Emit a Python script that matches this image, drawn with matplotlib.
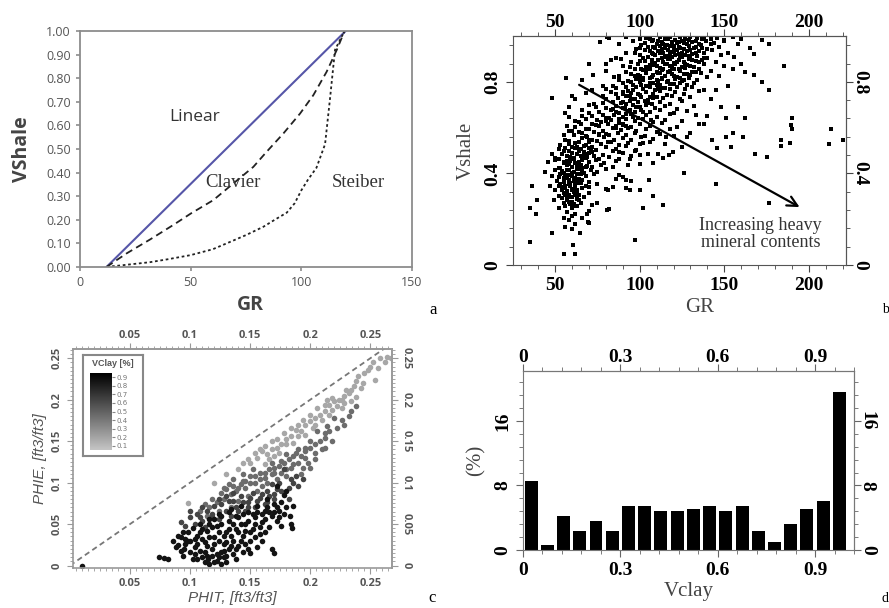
import numpy as np
import matplotlib
matplotlib.use("Agg")
import matplotlib.pyplot as plt
from matplotlib.colors import LinearSegmentedColormap
from matplotlib.ticker import MultipleLocator

SERIF = "Liberation Serif"
SANS = "Open Sans"

# ---- panel a : Vshale models
gr_lin = [12, 120]
vsh_lin = [0.0, 1.0]
gr_clav = [12, 21, 31.6, 42, 50, 60.2, 69.3, 78.3, 84.3, 91.9, 99.4, 105.4, 111.4, 116, 119.5]
vsh_clav = [0.0, 0.057, 0.116, 0.177, 0.226, 0.283, 0.354, 0.424, 0.488, 0.566, 0.65, 0.728, 0.827, 0.92, 1.0]
gr_stei = [12, 20, 31.6, 40, 50, 60, 67.8, 75, 82.8, 88, 93.4, 97, 100, 103, 106.8, 110.7, 112.9, 115.2, 119.5]
vsh_stei = [0.0, 0.008, 0.02, 0.033, 0.05, 0.075, 0.106, 0.135, 0.17, 0.2, 0.23, 0.27, 0.325, 0.37, 0.42, 0.52, 0.71, 0.92, 1.0]

# ---- panel b : GR vs Vshale crossplot, read row by row (Vshale level, GR readings)
rows_v = [0.99, 0.98, 0.97, 0.96, 0.95, 0.94, 0.93, 0.92, 0.91, 0.90, 0.89, 0.88, 0.87, 0.86,
          0.85, 0.84, 0.83, 0.82, 0.81, 0.80, 0.79, 0.78, 0.77, 0.76, 0.75, 0.74, 0.73, 0.72,
          0.71, 0.70, 0.69, 0.68, 0.67, 0.66, 0.65, 0.64, 0.63, 0.62, 0.61, 0.60, 0.59, 0.58,
          0.57, 0.56, 0.55, 0.54, 0.53, 0.52, 0.51, 0.50, 0.49, 0.48, 0.47, 0.46, 0.45, 0.44,
          0.43, 0.42, 0.41, 0.40, 0.39, 0.38, 0.37, 0.36, 0.35, 0.34, 0.33, 0.32, 0.31, 0.30,
          0.29, 0.28, 0.27, 0.26, 0.25, 0.23, 0.21, 0.19, 0.17, 0.15]
rows_gr = [
    [82, 92, 100, 104, 108, 112, 115, 118, 121, 124, 127, 130, 134, 138, 142, 146, 150, 155, 160],
    [106, 111, 117, 123, 129, 133, 137],
    [88, 96, 103, 107, 110, 113, 116, 119, 122, 125, 128, 131, 135, 139, 144, 150, 158],
    [101, 108, 114, 120, 126, 133, 142],
    [98, 105, 109, 112, 115, 118, 120, 123, 126, 129, 132, 136, 140, 147, 165],
    [100, 106, 113, 118, 124, 130, 137],
    [92, 103, 107, 111, 114, 117, 120, 122, 125, 128, 131, 135, 138, 143, 152],
    [97, 108, 112, 118, 123, 129, 133],
    [86, 100, 105, 109, 113, 116, 119, 121, 124, 127, 130, 134, 140, 148, 156],
    [102, 107, 115, 118, 125, 131, 138],
    [95, 103, 107, 111, 114, 117, 120, 123, 126, 129, 133, 137, 145],
    [100, 106, 109, 116, 122, 127, 135],
    [90, 99, 104, 108, 112, 115, 118, 121, 125, 128, 132, 138, 150, 160],
    [94, 101, 110, 114, 119, 123, 130],
    [80, 97, 102, 106, 110, 113, 117, 120, 124, 127, 131, 135, 142, 155],
    [92, 99, 104, 112, 118, 128, 133],
    [88, 95, 100, 104, 108, 111, 115, 119, 122, 126, 130, 136, 147],
    [97, 102, 107, 113, 120, 124],
    [66, 85, 93, 98, 102, 106, 110, 113, 117, 121, 125, 129, 134, 140],
    [88, 95, 100, 106, 111, 118, 126],
    [78, 90, 96, 100, 104, 108, 112, 116, 120, 124, 128, 132, 152],
    [84, 92, 101, 106, 110, 115],
    [72, 86, 93, 98, 102, 106, 109, 113, 118, 122, 127, 131, 138],
    [80, 90, 96, 104, 111],
    [68, 83, 90, 95, 100, 104, 108, 112, 116, 121, 126, 135],
    [86, 94, 99, 106, 116],
    [62, 78, 87, 92, 97, 101, 105, 110, 114, 119, 124, 130, 142],
    [80, 90, 95, 103, 108],
    [73, 84, 89, 94, 99, 103, 107, 112, 118, 125],
    [78, 86, 92, 98, 105],
    [58, 70, 80, 86, 91, 96, 100, 104, 109, 115, 122, 132, 148],
    [74, 84, 90, 94],
    [56, 66, 76, 83, 88, 93, 97, 101, 106, 112, 120, 128],
    [70, 78, 86, 92, 102],
    [58, 72, 80, 85, 90, 95, 99, 104, 110, 118, 140],
    [66, 75, 82, 88, 96],
    [62, 68, 77, 83, 88, 92, 97, 102, 108, 115, 125],
    [64, 72, 80, 90],
    [57, 65, 74, 81, 86, 90, 95, 100, 106, 113, 122, 135],
    [62, 68, 76, 86, 92],
    [60, 70, 78, 84, 89, 93, 98, 104, 110, 118],
    [58, 66, 73, 80],
    [55, 64, 68, 76, 82, 87, 92, 97, 103, 112, 120, 130],
    [61, 69, 76],
    [58, 66, 72, 79, 85, 90, 95, 101, 108],
    [56, 64, 70, 75],
    [53, 62, 67, 70, 77, 83, 88, 93, 100, 106, 115],
    [58, 63, 68, 72],
    [56, 60, 65, 70, 74, 80, 86, 92, 98, 125],
    [52, 58, 62, 67, 71],
    [48, 55, 60, 64, 68, 72, 78, 84, 90, 97, 105],
    [54, 59, 63, 67, 70],
    [52, 57, 61, 65, 69, 73, 76, 82, 88, 95, 114],
    [50, 57, 61, 64, 68],
    [46, 50, 55, 59, 62, 66, 70, 74, 79, 86, 100],
    [55, 58, 62, 65],
    [53, 57, 60, 63, 66, 69, 72, 77, 84, 93],
    [52, 57, 60, 63, 68],
    [44, 50, 55, 58, 61, 64, 67, 71, 75, 80],
    [54, 57, 60, 63, 66],
    [48, 53, 56, 59, 62, 65, 68, 73, 90],
    [52, 57, 60, 64],
    [51, 55, 58, 61, 63, 66, 70, 86, 95],
    [55, 58, 61, 64],
    [47, 53, 56, 59, 62, 65, 68, 75],
    [52, 56, 59, 62],
    [50, 54, 57, 60, 63, 66, 80, 92],
    [54, 57, 60, 63],
    [52, 55, 58, 61, 64, 70],
    [56, 59, 62],
    [49, 54, 57, 60, 63, 67],
    [57, 60, 64],
    [55, 58, 61, 65, 72],
    [59, 62],
    [52, 56, 60, 63, 82],
    [57, 62, 70],
    [55, 60, 66],
    [58, 70],
    [56, 62],
    [60],
]
# small vertical scatter of the readings around each row level
row_offs = [0.000, 0.007, -0.005, 0.003, -0.008, 0.006, -0.002, 0.009, -0.006, 0.004, -0.003, 0.008]
# scattered outliers
gr_out = [35.3, 35.3, 36.3, 39.2, 38.8, 48, 48, 56.5, 55, 60.4, 61.8, 59.8, 64.7, 69.6, 69.8, 72.5,
          76.5, 80.4, 79.8, 83, 89, 97.3, 102, 108, 114, 126, 117.6, 145, 145, 151, 151, 155, 158,
          154, 160.8, 162, 168, 162, 167.6, 167.6, 172.5, 176.5, 175.5, 176.5, 172.5, 176.5, 185.3,
          183.3, 183.7, 188.8, 189.8, 189.2, 190, 212, 213.3, 220, 146, 142.7, 138, 133, 128, 119.6,
          115.7, 110.8, 106.5, 105.5, 100, 94, 92, 88, 84.3, 81.4, 80.4, 74.5, 68.6, 70, 81.4, 88,
          94, 100, 102, 110.8, 108]
vsh_out = [0.10, 0.247, 0.346, 0.284, 0.225, 0.73, 0.138, 0.815, 0.05, 0.087, 0.05, 0.74, 0.138,
           0.19, 0.88, 0.83, 0.975, 0.996, 0.88, 0.895, 0.90, 0.11, 0.247, 0.30, 0.26, 0.40, 0.48,
           0.356, 0.764, 0.64, 0.56, 0.575, 0.69, 0.516, 0.56, 0.64, 0.487, 0.844, 0.923, 0.829,
           0.80, 0.764, 0.473, 0.273, 0.982, 0.967, 0.868, 0.545, 0.52, 0.531, 0.643, 0.611, 0.596,
           0.527, 0.592, 0.545, 0.509, 0.545, 0.618, 0.655, 0.56, 0.495, 0.56, 0.582, 0.633, 0.371,
           0.327, 0.327, 0.371, 0.393, 0.342, 0.327, 0.24, 0.269, 0.225, 0.342, 0.538, 0.495, 0.465,
           0.48, 0.531, 0.487, 0.444]

# ---- panel c : PHIT vs PHIE, in four Vclay classes
phit_light = [0.267, 0.262, 0.256, 0.250, 0.254, 0.245, 0.240, 0.242, 0.236, 0.238, 0.232, 0.228, 0.224,
              0.220, 0.216, 0.214, 0.222, 0.218, 0.226, 0.212, 0.208, 0.204, 0.210, 0.200, 0.196, 0.202,
              0.192, 0.188, 0.196, 0.184, 0.180, 0.186, 0.176, 0.172, 0.168, 0.174, 0.164, 0.160, 0.166,
              0.156, 0.150, 0.162, 0.140, 0.098, 0.120,
              0.264, 0.258, 0.252, 0.248, 0.244, 0.238, 0.234, 0.230, 0.226, 0.218, 0.212, 0.206, 0.200,
              0.194, 0.190, 0.184, 0.178, 0.172, 0.168, 0.162, 0.158, 0.154, 0.148, 0.144, 0.234, 0.228,
              0.216, 0.204, 0.190, 0.180, 0.170, 0.130]
phie_light = [0.250, 0.246, 0.238, 0.240, 0.224, 0.232, 0.228, 0.214, 0.216, 0.203, 0.208, 0.204, 0.200,
              0.198, 0.194, 0.200, 0.192, 0.188, 0.190, 0.186, 0.182, 0.178, 0.176, 0.174, 0.170, 0.166,
              0.162, 0.164, 0.158, 0.156, 0.152, 0.148, 0.146, 0.142, 0.140, 0.136, 0.134, 0.138, 0.128,
              0.130, 0.124, 0.122, 0.116, 0.075, 0.100,
              0.252, 0.250, 0.246, 0.236, 0.220, 0.222, 0.212, 0.212, 0.200, 0.202, 0.194, 0.190, 0.182,
              0.176, 0.170, 0.166, 0.160, 0.152, 0.150, 0.144, 0.140, 0.136, 0.128, 0.124, 0.198, 0.196,
              0.182, 0.170, 0.156, 0.146, 0.132, 0.110]
phit_mid = [0.232, 0.228, 0.220, 0.214, 0.206, 0.212, 0.200, 0.196, 0.190, 0.186, 0.180, 0.176, 0.170,
            0.168, 0.162, 0.158, 0.154, 0.150, 0.146, 0.142, 0.138, 0.134, 0.130, 0.128, 0.126, 0.122,
            0.118, 0.116, 0.112, 0.108, 0.176, 0.184, 0.190, 0.196, 0.204, 0.160, 0.164, 0.172, 0.180,
            0.148, 0.140, 0.134, 0.156, 0.124, 0.114, 0.192, 0.200, 0.210, 0.218, 0.152, 0.144, 0.136,
            0.146, 0.150, 0.154, 0.158, 0.162, 0.166, 0.170, 0.174, 0.178, 0.182, 0.186, 0.188, 0.192,
            0.196, 0.200, 0.204, 0.208, 0.212, 0.216, 0.222, 0.226, 0.234, 0.238, 0.140, 0.136, 0.132,
            0.128, 0.144, 0.168, 0.180, 0.198, 0.204, 0.212, 0.194]
phie_mid = [0.180, 0.170, 0.178, 0.168, 0.162, 0.154, 0.150, 0.142, 0.140, 0.132, 0.134, 0.126, 0.118,
            0.110, 0.112, 0.104, 0.108, 0.100, 0.094, 0.098, 0.090, 0.086, 0.092, 0.080, 0.088, 0.076,
            0.080, 0.070, 0.074, 0.066, 0.112, 0.118, 0.124, 0.130, 0.136, 0.096, 0.100, 0.104, 0.108,
            0.084, 0.078, 0.070, 0.090, 0.066, 0.060, 0.110, 0.118, 0.140, 0.150, 0.116, 0.110, 0.104,
            0.102, 0.108, 0.100, 0.112, 0.106, 0.116, 0.112, 0.120, 0.124, 0.128, 0.122, 0.136, 0.132,
            0.138, 0.142, 0.146, 0.150, 0.160, 0.162, 0.166, 0.176, 0.186, 0.192, 0.094, 0.096, 0.098,
            0.094, 0.102, 0.124, 0.116, 0.124, 0.128, 0.142, 0.118]
phit_dmid = [0.100, 0.106, 0.110, 0.118, 0.124, 0.130, 0.136, 0.142, 0.148, 0.152, 0.158, 0.164, 0.168,
             0.174, 0.178, 0.186, 0.190, 0.182, 0.162, 0.170, 0.154, 0.146, 0.112, 0.104, 0.096, 0.092,
             0.100, 0.108, 0.114, 0.120, 0.126, 0.132, 0.138, 0.144, 0.150, 0.156, 0.160, 0.166, 0.172,
             0.176, 0.182, 0.184, 0.188, 0.194, 0.170, 0.164, 0.134, 0.140, 0.148, 0.118, 0.110, 0.124,
             0.130, 0.136]
phie_dmid = [0.058, 0.062, 0.054, 0.062, 0.056, 0.066, 0.078, 0.084, 0.076, 0.088, 0.082, 0.090, 0.098,
             0.100, 0.116, 0.100, 0.096, 0.080, 0.074, 0.086, 0.070, 0.066, 0.046, 0.050, 0.048, 0.052,
             0.066, 0.058, 0.066, 0.072, 0.074, 0.078, 0.070, 0.076, 0.082, 0.078, 0.086, 0.084, 0.092,
             0.090, 0.094, 0.104, 0.108, 0.104, 0.080, 0.076, 0.060, 0.066, 0.070, 0.058, 0.070, 0.080,
             0.084, 0.088]
phit_dark = [0.074, 0.078, 0.082, 0.086, 0.090, 0.092, 0.095, 0.098, 0.100, 0.102, 0.104, 0.106, 0.108,
             0.110, 0.112, 0.114, 0.116, 0.112, 0.115, 0.118, 0.118, 0.120, 0.122, 0.124, 0.122, 0.126,
             0.128, 0.130, 0.132, 0.134, 0.128, 0.132, 0.136, 0.138, 0.140, 0.142, 0.136, 0.140, 0.144,
             0.146, 0.148, 0.144, 0.148, 0.150, 0.152, 0.154, 0.156, 0.150, 0.158, 0.160, 0.162, 0.164,
             0.166, 0.168, 0.170, 0.172, 0.174, 0.176, 0.168, 0.170, 0.184, 0.185, 0.183, 0.186, 0.178,
             0.094, 0.096, 0.104, 0.108, 0.126, 0.116, 0.130, 0.010, 0.138, 0.156, 0.160, 0.180, 0.172,
             0.088, 0.092, 0.096, 0.100, 0.102, 0.106, 0.108, 0.110, 0.112, 0.114, 0.116, 0.118, 0.120,
             0.120, 0.122, 0.124, 0.124, 0.126, 0.128, 0.130, 0.130, 0.132, 0.134, 0.134, 0.136, 0.138,
             0.138, 0.140, 0.142, 0.142, 0.144, 0.146, 0.146, 0.148, 0.150, 0.152, 0.154, 0.154, 0.156,
             0.158, 0.160, 0.162, 0.162, 0.164, 0.166, 0.170, 0.172, 0.174, 0.176, 0.178, 0.180, 0.110,
             0.106, 0.104, 0.098, 0.094, 0.090, 0.128, 0.124, 0.120, 0.114, 0.126, 0.132, 0.116]
phie_dark = [0.010, 0.009, 0.008, 0.030, 0.025, 0.034, 0.020, 0.040, 0.030, 0.045, 0.022, 0.036, 0.050,
             0.010, 0.028, 0.042, 0.056, 0.004, 0.008, 0.012, 0.020, 0.034, 0.048, 0.062, 0.006, 0.016,
             0.026, 0.040, 0.054, 0.068, 0.010, 0.020, 0.030, 0.044, 0.058, 0.072, 0.014, 0.024, 0.036,
             0.050, 0.064, 0.016, 0.020, 0.030, 0.044, 0.058, 0.072, 0.015, 0.038, 0.052, 0.066, 0.080,
             0.046, 0.060, 0.074, 0.054, 0.066, 0.048, 0.020, 0.015, 0.050, 0.045, 0.060, 0.072, 0.085,
             0.012, 0.032, 0.014, 0.018, 0.002, 0.002, 0.004, 0.000, 0.020, 0.022, 0.030, 0.090, 0.096,
             0.022, 0.018, 0.026, 0.016, 0.008, 0.026, 0.040, 0.032, 0.016, 0.024, 0.034, 0.046, 0.026,
             0.056, 0.014, 0.030, 0.040, 0.050, 0.036, 0.012, 0.028, 0.044, 0.024, 0.036, 0.050, 0.008,
             0.060, 0.040, 0.030, 0.050, 0.062, 0.026, 0.042, 0.054, 0.040, 0.062, 0.034, 0.050, 0.064,
             0.046, 0.062, 0.040, 0.056, 0.070, 0.064, 0.064, 0.070, 0.058, 0.076, 0.062, 0.070, 0.044,
             0.008, 0.032, 0.030, 0.040, 0.036, 0.018, 0.010, 0.004, 0.012, 0.060, 0.064, 0.050]
vcl_groups = [0.15, 0.45, 0.65, 0.9]
cbar_ticks = [0.1, 0.2, 0.3, 0.4, 0.5, 0.6, 0.7, 0.8, 0.9]

# ---- panel d : Vclay histogram
vcl_bins = np.arange(0.025, 1.0, 0.05)
vcl_pct = [8.6, 0.6, 4.2, 2.3, 3.6, 2.3, 5.5, 5.5, 4.8, 4.8, 5.1, 5.5, 4.8, 5.5, 2.3, 1.0, 3.2, 5.1, 6.1, 19.6]


def style_labels(labels, family, size, weight="bold", color="black", rotation=None):
    for t in labels:
        t.set_family(family)
        t.set_fontsize(size)
        t.set_weight(weight)
        t.set_color(color)
        if rotation is not None:
            t.set_rotation(rotation)
            t.set_va("center")


fig = plt.figure(figsize=(8.89, 6.08), dpi=100)

# ================= a
ax = fig.add_axes([0.090, 0.561, 0.3735, 0.388])
ax.plot(gr_lin, vsh_lin, color="#5656a8", lw=1.5)
ax.plot(gr_clav, vsh_clav, color="#222222", lw=1.3, ls=(0, (4, 2.5)))
ax.plot(gr_stei, vsh_stei, color="#222222", lw=1.3, ls=(0, (1.5, 1.5)))
ax.set_xlim(0, 150)
ax.set_ylim(0, 1)
ax.set_xticks([0, 50, 100, 150])
ax.set_yticks(np.arange(0, 1.01, 0.1))
ax.set_yticklabels([f"{v:.2f}" for v in np.arange(0, 1.01, 0.1)])
for s in ax.spines.values():
    s.set_color("#8c8c8c")
    s.set_linewidth(1.3)
ax.tick_params(colors="#8c8c8c", length=3, width=1.2)
style_labels(ax.get_xticklabels() + ax.get_yticklabels(), SANS, 9, weight="normal", color="#555555")
ax.text(52, 0.636, "Linear", family=SANS, fontsize=12.5, color="#333333", ha="center", va="center")
ax.text(69.3, 0.356, "Clavier", family=SERIF, fontsize=13.5, color="#333333", ha="center", va="center")
ax.text(125.8, 0.356, "Steiber", family=SERIF, fontsize=13.5, color="#333333", ha="center", va="center")
fig.text(22 / 889, 1 - 149 / 608, "VShale", family=SANS, fontsize=14, weight="bold",
         color="#444444", rotation=90, ha="center", va="center")
fig.text(250 / 889, 1 - 305 / 608, "GR", family=SANS, fontsize=14, weight="bold",
         color="#444444", ha="center", va="center")
fig.text(433 / 889, 1 - 310 / 608, "a", family=SERIF, fontsize=12, ha="center", va="center")

# ================= b
ax = fig.add_axes([0.577, 0.5641, 0.3746, 0.3766])
gr_b, vsh_b = list(gr_out), list(vsh_out)
for i, (v, g) in enumerate(zip(rows_v, rows_gr)):
    for k, x in enumerate(g):
        gr_b.append(x)
        vsh_b.append(min(v + row_offs[(k + 5 * i) % len(row_offs)], 0.995))
ax.scatter(gr_b, vsh_b, s=12, marker="s", color="black", linewidths=0)
ax.annotate("", xy=(196, 0.247), xytext=(62.7, 0.793),
            arrowprops=dict(arrowstyle="->", color="black", lw=1.6, mutation_scale=18))
ax.text(171.5, 0.135, "Increasing heavy\nmineral contents", family=SERIF, fontsize=13,
        color="#333333", ha="center", va="center", linespacing=1.0)
ax.set_xlim(25, 222)
ax.set_ylim(0, 1.0)
ax.set_xticks([50, 100, 150, 200])
ax.set_yticks([0, 0.4, 0.8])
ax.set_yticklabels(["0", "0.4", "0.8"])
ax.xaxis.set_minor_locator(MultipleLocator(10))
ax.yaxis.set_minor_locator(MultipleLocator(0.08))
ax.tick_params(which="both", direction="out", top=True, right=True, color="#444444")
ax.tick_params(which="major", length=5)
ax.tick_params(which="minor", length=3)
style_labels(ax.get_xticklabels(), SERIF, 14)
style_labels(ax.get_yticklabels(), SERIF, 14, rotation=90)
secx = ax.secondary_xaxis("top")
secx.set_xticks([50, 100, 150, 200])
secx.tick_params(length=0)
style_labels(secx.get_xticklabels(), SERIF, 14)
secy = ax.secondary_yaxis("right")
secy.set_yticks([0, 0.4, 0.8])
secy.set_yticklabels(["0", "0.4", "0.8"])
secy.tick_params(length=0)
style_labels(secy.get_yticklabels(), SERIF, 14, rotation=-90)
for s in list(ax.spines.values()) + list(secx.spines.values()) + list(secy.spines.values()):
    s.set_color("#555555")
ax.set_ylabel("Vshale", family=SERIF, fontsize=15, color="#444444", labelpad=6)
fig.text(700 / 889, 1 - 308 / 608, "GR", family=SERIF, fontsize=15, color="#444444",
         ha="center", va="center")
fig.text(882 / 889, 1 - 310 / 608, "b", family=SERIF, fontsize=10, ha="left", va="center")

# ================= c
gcmap = LinearSegmentedColormap.from_list("vcl", ["#c4c4c4", "#000000"])
ax = fig.add_axes([0.0821, 0.0658, 0.3588, 0.360])
ax.plot([0, 0.27], [0, 0.27], color="#777777", lw=1.3, ls=(0, (3, 2)))
groups_c = [(phit_light, phie_light), (phit_mid, phie_mid), (phit_dmid, phie_dmid), (phit_dark, phie_dark)]
for (px, py), vc in zip(groups_c, vcl_groups):
    ax.scatter(px, py, s=16, color=gcmap(vc), linewidths=0)
ax.set_xlim(0.0025, 0.268)
ax.set_ylim(-0.003, 0.261)
ticks_c = [0.05, 0.1, 0.15, 0.2, 0.25]
lab_c = ["0", "0.05", "0.1", "0.15", "0.2", "0.25"]
ax.set_xticks(ticks_c)
ax.set_xticklabels(lab_c[1:])
ax.set_yticks([0] + ticks_c)
ax.set_yticklabels(lab_c)
ax.xaxis.set_minor_locator(MultipleLocator(0.005))
ax.yaxis.set_minor_locator(MultipleLocator(0.005))
ax.tick_params(which="both", direction="out", top=True, right=True, color="#999999")
ax.tick_params(which="major", length=4)
ax.tick_params(which="minor", length=2)
style_labels(ax.get_xticklabels(), SANS, 8, color="#555555")
style_labels(ax.get_yticklabels(), SANS, 8, color="#555555", rotation=90)
secx = ax.secondary_xaxis("top")
secx.set_xticks(ticks_c)
secx.set_xticklabels(lab_c[1:])
secx.tick_params(length=0, pad=6)
style_labels(secx.get_xticklabels(), SANS, 8, color="#555555")
secy = ax.secondary_yaxis("right")
secy.set_yticks([0] + ticks_c)
secy.set_yticklabels(lab_c)
secy.tick_params(length=0, pad=6)
style_labels(secy.get_yticklabels(), SANS, 8, color="#555555", rotation=-90)
for s in list(ax.spines.values()) + list(secx.spines.values()) + list(secy.spines.values()):
    s.set_color("#999999")
    s.set_linewidth(1.2)
ax.set_xlabel("PHIT, [ft3/ft3]", family="Liberation Sans", style="italic", fontsize=11,
              color="#555555", labelpad=1)
ax.set_ylabel("PHIE, [ft3/ft3]", family="Liberation Sans", style="italic", fontsize=11,
              color="#555555", labelpad=3)
fig.text(432 / 889, 1 - 598 / 608, "c", family=SERIF, fontsize=12, ha="center", va="center")

# inset colour legend
box = fig.add_axes([83 / 889, 1 - 456 / 608, 60 / 889, 101 / 608])
box.set_xticks([]); box.set_yticks([])
for s in box.spines.values():
    s.set_color("#888888"); s.set_linewidth(1.5)
box.text(0.5, 0.92, "VClay [%]", transform=box.transAxes, ha="center", va="center",
         family="Liberation Sans", fontsize=6.5, weight="bold", color="#555555")
cax = fig.add_axes([90 / 889, 1 - 450 / 608, 22 / 889, 77 / 608])
grad = np.linspace(0.05, 0.95, 100).reshape(-1, 1)
cax.imshow(grad, cmap=gcmap, aspect="auto", origin="lower", extent=[0, 1, 0.05, 0.95])
cax.set_xticks([])
cax.yaxis.tick_right()
cax.set_yticks(cbar_ticks)
cax.set_ylim(0.05, 0.95)
cax.tick_params(axis="y", length=2, labelsize=5, colors="#888888", labelcolor="#777777", pad=1)
for s in cax.spines.values():
    s.set_visible(False)

# ================= d
ax = fig.add_axes([0.5883, 0.0954, 0.3723, 0.2944])
ax.bar(vcl_bins, vcl_pct, width=0.04, color="black")
ax.set_xlim(0, 1.02)
ax.set_ylim(0, 22.2)
ticks_d = [0, 0.3, 0.6, 0.9]
ax.set_xticks(ticks_d)
ax.set_xticklabels(["0", "0.3", "0.6", "0.9"])
ax.set_yticks([0, 8, 16])
ax.xaxis.set_minor_locator(MultipleLocator(0.06))
ax.yaxis.set_minor_locator(MultipleLocator(1.6))
ax.tick_params(which="both", direction="out", top=True, right=True, color="#666666")
ax.tick_params(which="major", length=5)
ax.tick_params(which="minor", length=3)
style_labels(ax.get_xticklabels(), SERIF, 14)
style_labels(ax.get_yticklabels(), SERIF, 14, rotation=90)
secx = ax.secondary_xaxis("top")
secx.set_xticks(ticks_d)
secx.set_xticklabels(["0", "0.3", "0.6", "0.9"])
secx.tick_params(length=0)
style_labels(secx.get_xticklabels(), SERIF, 14)
secy = ax.secondary_yaxis("right")
secy.set_yticks([0, 8, 16])
secy.tick_params(length=0)
style_labels(secy.get_yticklabels(), SERIF, 14, rotation=-90)
for s in list(ax.spines.values()) + list(secx.spines.values()) + list(secy.spines.values()):
    s.set_color("#777777")
ax.set_ylabel("(%)", family=SERIF, fontsize=15, color="#444444", labelpad=6)
ax.set_xlabel("Vclay", family=SERIF, fontsize=15, color="#444444", labelpad=2)
fig.text(882 / 889, 1 - 598 / 608, "d", family=SERIF, fontsize=10, ha="left", va="center")

fig.savefig("out.png", dpi=100)
